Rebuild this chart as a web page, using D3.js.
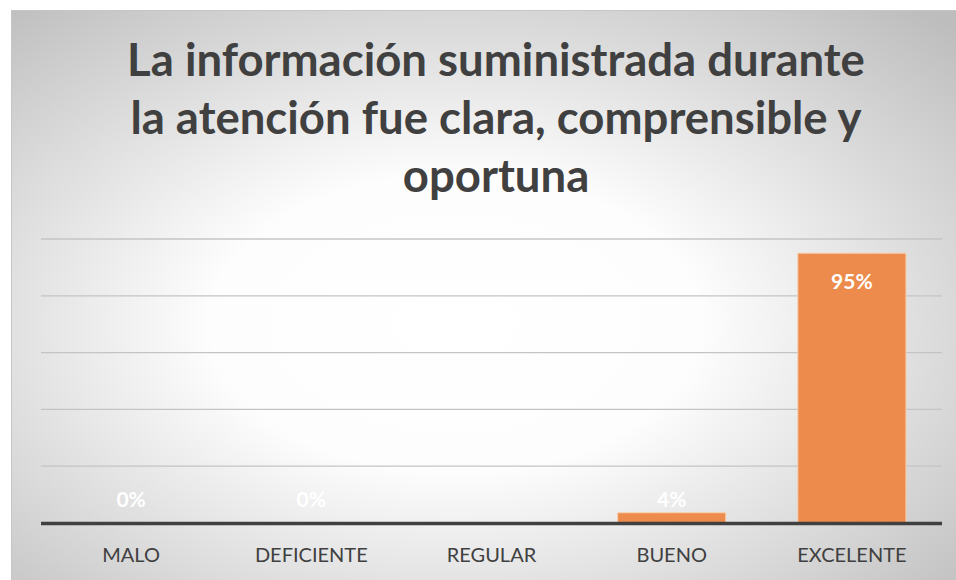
<!DOCTYPE html>
<html>
<head>
<meta charset="utf-8">
<script src="https://cdn.jsdelivr.net/npm/d3@7"></script>
<style>
  body { margin: 0; background: #ffffff; }
  svg { display: block; }
  text { font-family: Lato, "Open Sans", sans-serif; }
</style>
</head>
<body>
<svg id="chart" width="956" height="580"></svg>
<script>
const titleLines = ["La información suministrada durante", "la atención fue clara, comprensible y", "oportuna"];
const categories = ["MALO", "DEFICIENTE", "REGULAR", "BUENO", "EXCELENTE"];
// percent values, REGULAR has no value in the source
const values = [0, 0, null, 3.6, 95];
const gridTicks = [20, 40, 60, 80, 100];

const svg = d3.select("#chart");
const svgWidth = 956;
const svgHeight = 580;

const margin = { top: 239, right: 14, bottom: 57, left: 41 };
const width = svgWidth - margin.left - margin.right;
const height = svgHeight - margin.top - margin.bottom;

// background with radial gradient (white centre, grey edges)
const grad = svg.append("defs").append("radialGradient")
  .attr("id", "bg")
  .attr("cx", 0.47).attr("cy", 0.55).attr("r", 0.74);
grad.append("stop").attr("offset", "0%").attr("stop-color", "#ffffff");
grad.append("stop").attr("offset", "35%").attr("stop-color", "#fdfdfd");
grad.append("stop").attr("offset", "100%").attr("stop-color", "#bdbdbd");

svg.append("rect")
  .attr("x", 11).attr("y", 10)
  .attr("width", svgWidth - 11).attr("height", svgHeight - 10)
  .attr("fill", "url(#bg)");
svg.append("path")
  .attr("d", `M11.5,${svgHeight} V10.5 H${svgWidth}`)
  .attr("fill", "none")
  .attr("stroke", "#c6c6c6");

const x = d3.scaleBand()
  .domain(categories)
  .range([margin.left, margin.left + width])
  .paddingInner(0.4)
  .paddingOuter(0.2);

const y = d3.scaleLinear()
  .domain([0, 100])
  .range([margin.top + height, margin.top]);

// gridlines
svg.append("g")
  .selectAll("line")
  .data(gridTicks)
  .join("line")
  .attr("x1", margin.left)
  .attr("x2", margin.left + width)
  .attr("y1", (d) => y(d))
  .attr("y2", (d) => y(d))
  .attr("stroke", "#c4c4c4")
  .attr("stroke-width", 1.3);

// title
svg.append("g")
  .selectAll("text")
  .data(titleLines)
  .join("text")
  .attr("x", 496)
  .attr("y", (d, i) => 76 + i * 58)
  .attr("text-anchor", "middle")
  .attr("font-size", 45.5)
  .attr("font-weight", "bold")
  .attr("fill", "#404040")
  .text((d) => d);

const rows = categories.map((c, i) => ({ category: c, value: values[i] }));

// bars
svg.append("g")
  .selectAll("rect")
  .data(rows.filter((d) => d.value))
  .join("rect")
  .attr("x", (d) => x(d.category))
  .attr("width", x.bandwidth())
  .attr("y", (d) => y(d.value))
  .attr("height", (d) => y(0) - y(d.value))
  .attr("fill", "#ec8b4b")
  .attr("stroke", "#f8cfb0")
  .attr("stroke-width", 1);

// x axis line
svg.append("line")
  .attr("x1", margin.left)
  .attr("x2", margin.left + width)
  .attr("y1", y(0) + 0.5)
  .attr("y2", y(0) + 0.5)
  .attr("stroke", "#404040")
  .attr("stroke-width", 3.5);

// data labels
svg.append("g")
  .selectAll("text")
  .data(rows.filter((d) => d.value !== null))
  .join("text")
  .attr("x", (d) => x(d.category) + x.bandwidth() / 2)
  .attr("y", (d) => Math.min(y(d.value) + 28, y(0) - 24))
  .attr("dy", "0.36em")
  .attr("text-anchor", "middle")
  .attr("font-size", 21)
  .attr("font-weight", "bold")
  .attr("fill", "#ffffff")
  .text((d) => Math.round(d.value) + "%");

// category labels
svg.append("g")
  .selectAll("text")
  .data(categories)
  .join("text")
  .attr("x", (d) => x(d) + x.bandwidth() / 2)
  .attr("y", 562)
  .attr("text-anchor", "middle")
  .attr("font-size", 20)
  .attr("fill", "#404040")
  .text((d) => d);
</script>
</body>
</html>
